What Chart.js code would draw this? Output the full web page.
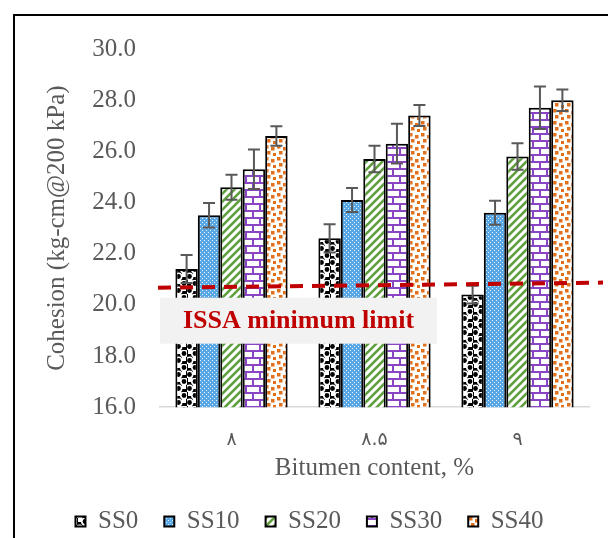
<!DOCTYPE html>
<html>
<head>
<meta charset="utf-8">
<script src="https://cdn.jsdelivr.net/npm/chart.js@4.4.1/dist/chart.umd.min.js"></script>
<style>
  html, body { margin: 0; padding: 0; background: #fff; overflow: hidden; }
  #frame { position: absolute; left: 13px; top: 14px; width: 640px; height: 600px; border: 2px solid #000; box-sizing: border-box; }
  #wrap { position: absolute; left: 0; top: 0; width: 608px; height: 548px; }
</style>
</head>
<body>
<div id="frame"></div>
<div id="wrap"><canvas id="chart" width="608" height="548"></canvas></div>
<script>
// data
const categories = ['۸', '۸.۵', '۹'];
const seriesNames = ['SS0', 'SS10', 'SS20', 'SS30', 'SS40'];
const ss0 = [21.4, 22.6, 20.4];
const ss10 = [23.5, 24.1, 23.6];
const ss20 = [24.6, 25.7, 25.8];
const ss30 = [25.3, 26.3, 27.7];
const ss40 = [26.6, 27.4, 28.0];
const err0 = [0.55, 0.55, 0.35];
const err10 = [0.48, 0.47, 0.47];
const err20 = [0.49, 0.52, 0.52];
const err30 = [0.77, 0.78, 0.83];
const err40 = [0.38, 0.41, 0.42];
const yMin = 16, yMax = 30, yStep = 2;
const limitEnds = [20.67, 20.87]; // ISSA minimum limit, left and right end
const limitText = 'ISSA minimum limit';

const serif = '"Liberation Serif", "Times New Roman", serif';
const grey = '#595959';

// Helper: build a canvas pattern from a small tile
function makePattern(w, h, draw) {
  const c = document.createElement('canvas');
  c.width = w; c.height = h;
  const g = c.getContext('2d');
  draw(g, w, h);
  return document.getElementById('chart').getContext('2d').createPattern(c, 'repeat');
}

const patSS0 = makePattern(11, 14, (g, w, h) => {
  g.fillStyle = '#000'; g.fillRect(0, 0, w, h);
  g.fillStyle = '#fff';
  g.fillRect(1, 0, 4, 4); g.fillRect(6, 7, 4, 4);
  g.strokeStyle = '#fff'; g.lineWidth = 1.6;
  [[8, 3.5], [2.5, 10.5]].forEach(([x, y]) => {
    g.beginPath(); g.arc(x, y, 3.2, 0, Math.PI * 2); g.stroke();
  });
});
const patSS10 = makePattern(4, 4, (g, w, h) => {
  g.fillStyle = '#5aa7e6'; g.fillRect(0, 0, w, h);
  g.fillStyle = '#e4f1fb';
  g.fillRect(0, 0, 1, 1); g.fillRect(2, 2, 1, 1);
});
const patSS20 = makePattern(8, 8, (g, w, h) => {
  g.fillStyle = '#fff'; g.fillRect(0, 0, w, h);
  g.strokeStyle = '#5f9e3c'; g.lineWidth = 2.6;
  [[-8, 8, 8, -8], [0, 8, 8, 0], [0, 16, 16, 0]].forEach(([a, b, c, d]) => {
    g.beginPath(); g.moveTo(a, b); g.lineTo(c, d); g.stroke();
  });
});
const patSS30 = makePattern(14, 14, (g, w, h) => {
  g.fillStyle = '#fff'; g.fillRect(0, 0, w, h);
  g.fillStyle = '#8a45c4';
  g.fillRect(0, 0, w, 2); g.fillRect(0, 7, w, 2);
  g.fillRect(0, 0, 2, 7); g.fillRect(7, 7, 2, 7);
});
const patSS40 = makePattern(12, 12, (g, w, h) => {
  g.fillStyle = '#fff'; g.fillRect(0, 0, w, h);
  g.fillStyle = '#e0701c';
  [[1, 1], [7, 3], [3, 7], [9, 9]].forEach(([x, y]) => g.fillRect(x, y, 3.5, 3.5));
});

const seriesValues = [ss0, ss10, ss20, ss30, ss40];
const seriesErrors = [err0, err10, err20, err30, err40];
const seriesFills = [patSS0, patSS10, patSS20, patSS30, patSS40];

// error bars, limit line and the label box
const overlays = {
  id: 'overlays',
  afterDatasetsDraw(chart) {
    const ctx = chart.ctx;
    const ys = chart.scales.y;
    const area = chart.chartArea;
    ctx.save();
    // error bars
    ctx.strokeStyle = grey;
    ctx.lineWidth = 2;
    chart.data.datasets.forEach((ds, i) => {
      chart.getDatasetMeta(i).data.forEach((bar, j) => {
        const v = ds.data[j], e = seriesErrors[i][j];
        const top = ys.getPixelForValue(v + e), bot = ys.getPixelForValue(v - e);
        ctx.beginPath();
        ctx.moveTo(bar.x, top); ctx.lineTo(bar.x, bot);
        ctx.moveTo(bar.x - 6, top); ctx.lineTo(bar.x + 6, top);
        ctx.moveTo(bar.x - 6, bot); ctx.lineTo(bar.x + 6, bot);
        ctx.stroke();
      });
    });
    // dashed limit line
    const y1 = ys.getPixelForValue(limitEnds[0]);
    const y2 = ys.getPixelForValue(limitEnds[1]);
    ctx.strokeStyle = '#c00000';
    ctx.lineWidth = 4;
    ctx.setLineDash([13, 9]);
    ctx.beginPath();
    ctx.moveTo(area.left - 2, y1);
    ctx.lineTo(area.right + 14, y2);
    ctx.stroke();
    ctx.setLineDash([]);
    // label box under the line
    const bx = area.left, by = y1 + 10, bw = 277, bh = 46;
    ctx.fillStyle = '#f2f2f2';
    ctx.fillRect(bx, by, bw, bh);
    ctx.fillStyle = '#c00000';
    ctx.font = 'bold 26px ' + serif;
    ctx.textAlign = 'center';
    ctx.textBaseline = 'middle';
    ctx.fillText(limitText, bx + bw / 2, by + bh / 2 + 1);
    ctx.restore();
  }
};

Chart.defaults.font.family = serif;
Chart.defaults.color = grey;

new Chart(document.getElementById('chart'), {
  type: 'bar',
  data: {
    labels: categories,
    datasets: seriesNames.map((name, i) => ({
      label: name,
      data: seriesValues[i],
      backgroundColor: seriesFills[i],
      borderColor: '#000',
      borderWidth: 2,
      borderSkipped: false,
      barPercentage: 1,
      categoryPercentage: 0.785
    }))
  },
  options: {
    responsive: false,
    animation: false,
    layout: { padding: { left: 30, right: 19, top: 49, bottom: 4 } },
    plugins: {
      tooltip: { enabled: false },
      legend: {
        position: 'bottom',
        labels: {
          boxWidth: 10, boxHeight: 10, padding: 26,
          color: grey,
          font: { size: 25, family: serif }
        }
      }
    },
    scales: {
      x: {
        grid: { display: false },
        border: { display: true, color: '#d9d9d9', width: 1.5 },
        ticks: { color: grey, font: { size: 19, family: '"DejaVu Sans", sans-serif' }, padding: 13 },
        title: { display: true, text: 'Bitumen content, %', color: grey, font: { size: 25, family: serif }, padding: { top: -11, bottom: 0 } }
      },
      y: {
        min: yMin, max: yMax,
        grid: { display: false, drawTicks: false },
        border: { display: false },
        ticks: { stepSize: yStep, padding: 24, color: grey, font: { size: 25, family: serif }, callback: v => v.toFixed(1) },
        title: { display: true, text: 'Cohesion (kg-cm@200 kPa)', color: grey, font: { size: 25, family: serif }, padding: { top: 12, bottom: 0 } },
        afterFit(scale) { scale.width = 130; }
      }
    }
  },
  plugins: [overlays]
});
</script>
</body>
</html>
